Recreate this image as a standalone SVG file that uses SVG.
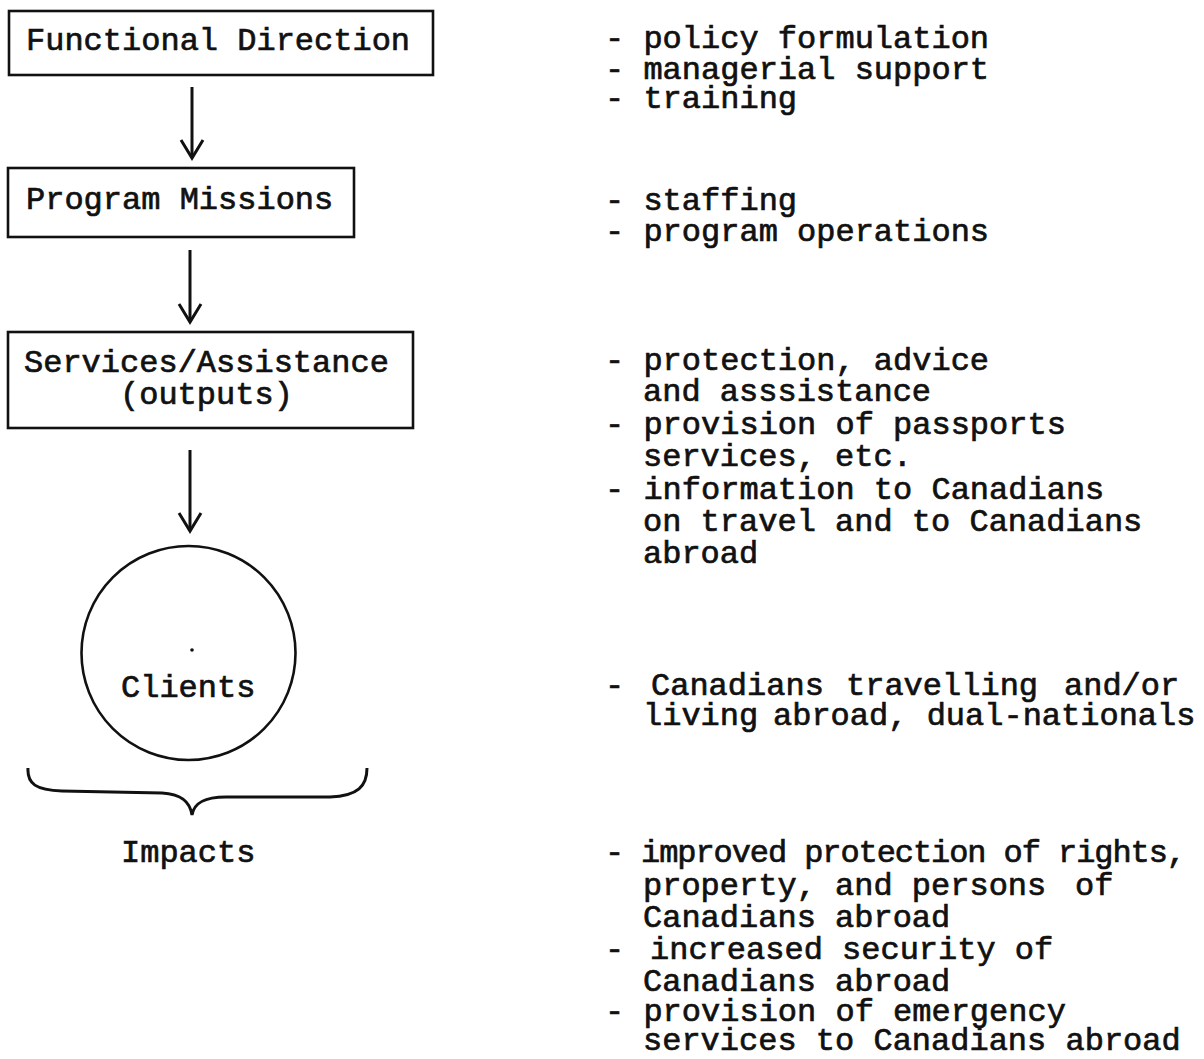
<svg xmlns="http://www.w3.org/2000/svg" width="1204" height="1059" viewBox="0 0 1204 1059">
<style>
  text { font-family: "Liberation Mono", "DejaVu Sans Mono", monospace; font-size: 32px; font-weight: normal; fill: #111; stroke: #111; stroke-width: 0.7px; }
  .box { fill: none; stroke: #111; stroke-width: 2.6; }
  .conn { fill: none; stroke: #111; stroke-width: 3; }
</style>
<defs>
  <marker id="chev" markerUnits="userSpaceOnUse" markerWidth="40" markerHeight="40" refX="0" refY="0" orient="auto" overflow="visible">
    <path d="M-18,-11 L0,0 L-18,11" fill="none" stroke="#111" stroke-width="3" stroke-linejoin="miter"/>
  </marker>
</defs>
<rect width="1204" height="1059" fill="#fff"/>

<g id="functional-direction">
  <rect class="box" x="9" y="11" width="424" height="64"/>
  <text x="26" y="50">Functional Direction</text>
</g>
<g id="program-missions">
  <rect class="box" x="8" y="168" width="346" height="69"/>
  <text x="26" y="209">Program Missions</text>
</g>
<g id="services-assistance">
  <rect class="box" x="8" y="332" width="405" height="96"/>
  <text><tspan x="24" y="372">Services/Assistance</tspan><tspan x="120" y="404">(outputs)</tspan></text>
</g>
<g id="clients">
  <circle class="box" cx="188.5" cy="653" r="107" stroke-width="3"/>
  <circle cx="192" cy="650" r="1.8" fill="#111"/>
  <text x="121" y="697">Clients</text>
</g>
<g id="impacts">
  <path class="conn" d="M28,768 C27,784 36,790 62,791 L162,793 C182,794 190,802 192,815 C194,803 204,797 226,797 L330,797 C358,796 367,786 367,768"/>
  <text x="121" y="862">Impacts</text>
</g>

<g id="connectors">
  <line class="conn" x1="192" y1="87" x2="192" y2="158" marker-end="url(#chev)"/>
  <line class="conn" x1="190" y1="250" x2="190" y2="322" marker-end="url(#chev)"/>
  <line class="conn" x1="190" y1="450" x2="190" y2="531" marker-end="url(#chev)"/>
</g>

<g id="notes-functional">
  <text><tspan x="605" y="48">- policy formulation</tspan><tspan x="605" y="79">- managerial support</tspan><tspan x="605" y="108">- training</tspan></text>
</g>
<g id="notes-program">
  <text><tspan x="605" y="210">- staffing</tspan><tspan x="605" y="241">- program operations</tspan></text>
</g>
<g id="notes-services">
  <text><tspan x="605" y="370">- protection, advice</tspan><tspan x="643" y="401">and asssistance</tspan><tspan x="605" y="434">- provision of passports</tspan><tspan x="643" y="466">services, etc.</tspan><tspan x="605" y="499">- information to Canadians</tspan><tspan x="643" y="531">on travel and to Canadians</tspan><tspan x="643" y="563">abroad</tspan></text>
</g>
<g id="notes-clients">
  <text><tspan x="605" y="695">-</tspan><tspan x="651" y="695">Canadians</tspan><tspan x="846" y="695">travelling</tspan><tspan x="1064" y="695">and/or</tspan><tspan x="643" y="725">living</tspan><tspan x="773" y="725">abroad, dual-nationals</tspan></text>
</g>
<g id="notes-impacts">
  <text><tspan x="605" y="862">-</tspan><tspan x="641" y="862" textLength="545">improved protection of rights,</tspan><tspan x="643" y="895">property, and persons</tspan><tspan x="1075" y="895">of</tspan><tspan x="643" y="927">Canadians abroad</tspan><tspan x="605" y="959">-</tspan><tspan x="650" y="959">increased security of</tspan><tspan x="643" y="991">Canadians abroad</tspan><tspan x="605" y="1021">- provision of emergency</tspan><tspan x="643" y="1050">services to Canadians abroad</tspan></text>
</g>
</svg>
